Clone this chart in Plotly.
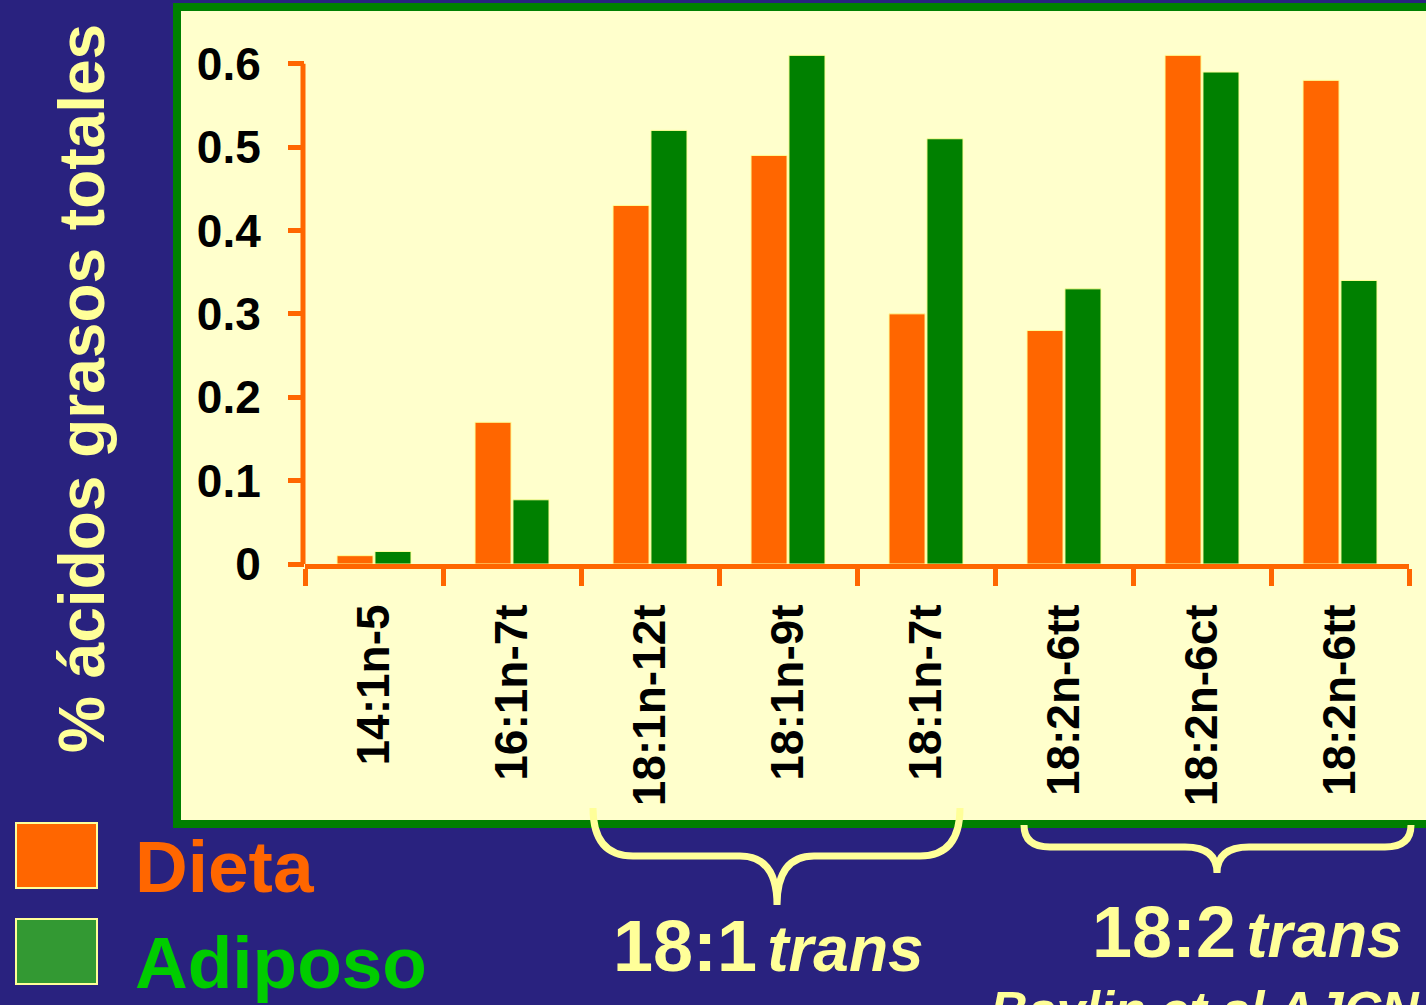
import plotly.graph_objects as go

# Ácidos grasos trans: dieta vs tejido adiposo (% de ácidos grasos totales)
categorias = ["14:1n-5", "16:1n-7t", "18:1n-12t", "18:1n-9t", "18:1n-7t",
              "18:2n-6tt", "18:2n-6ct", "18:2n-6tt"]
dieta = [0.01, 0.17, 0.43, 0.49, 0.30, 0.28, 0.61, 0.58]
adiposo = [0.015, 0.077, 0.52, 0.61, 0.51, 0.33, 0.59, 0.34]
y_ticks = [0, 0.1, 0.2, 0.3, 0.4, 0.5, 0.6]

W, H = 1426, 1005
L, R, T, B = 305, 1409, 22, 564          # plot area in pixels
YMAX = 0.65

FONT = "Liberation Sans, Arial, Helvetica, sans-serif"
NAVY = "#29227f"
CREAM = "#ffffcc"
PALE = "#ffff99"
ORANGE = "#ff6600"
GREEN = "#008000"


def px(x):
    return (x - L) / (R - L)


def py(y):
    return (B - y) / (B - T)


xpos = list(range(len(categorias)))

fig = go.Figure()
fig.add_trace(go.Bar(x=xpos, y=dieta, name="Dieta",
                     marker=dict(color=ORANGE, line=dict(color=PALE, width=1))))
fig.add_trace(go.Bar(x=xpos, y=adiposo, name="Adiposo",
                     marker=dict(color=GREEN, line=dict(color=PALE, width=1))))

shapes = []
# cream panel with green frame
shapes.append(dict(type="rect", xref="paper", yref="paper", layer="below",
                   x0=px(177), x1=px(1445), y0=py(7), y1=py(824),
                   fillcolor=CREAM, line=dict(color=GREEN, width=8)))
# vertical axis line, only up to 0.6
shapes.append(dict(type="line", xref="paper", yref="paper", layer="above",
                   x0=px(303), x1=px(303), y0=0, y1=py(B - 0.6 / YMAX * (B - T)),
                   line=dict(color=ORANGE, width=5)))


def brace(pts):
    # pts: list of (cmd, [(x, y), ...]) in pixels
    out = []
    for cmd, coords in pts:
        out.append(cmd + " " + " ".join(f"{px(x):.5f},{py(y):.5f}" for x, y in coords))
    return " ".join(out)


brace_181 = brace([
    ("M", [(593, 808)]),
    ("Q", [(593, 856), (633, 856)]),
    ("L", [(740, 856)]),
    ("Q", [(777, 856), (777, 905)]),
    ("Q", [(777, 856), (814, 856)]),
    ("L", [(920, 856)]),
    ("Q", [(960, 856), (960, 808)]),
])
brace_182 = brace([
    ("M", [(1024, 825)]),
    ("Q", [(1024, 847), (1050, 847)]),
    ("L", [(1185, 847)]),
    ("Q", [(1217, 847), (1217, 873)]),
    ("Q", [(1217, 847), (1249, 847)]),
    ("L", [(1385, 847)]),
    ("Q", [(1411, 847), (1411, 825)]),
])
for p in (brace_181, brace_182):
    shapes.append(dict(type="path", xref="paper", yref="paper", path=p,
                       line=dict(color=PALE, width=7)))

# legend swatches
shapes.append(dict(type="rect", xref="paper", yref="paper",
                   x0=px(16), x1=px(97), y0=py(823), y1=py(888),
                   fillcolor=ORANGE, line=dict(color=PALE, width=2)))
shapes.append(dict(type="rect", xref="paper", yref="paper",
                   x0=px(16), x1=px(97), y0=py(919), y1=py(984),
                   fillcolor="#339933", line=dict(color=PALE, width=2)))

annotations = [
    dict(text="<b>% ácidos grasos totales</b>", textangle=-90,
         x=px(82), y=py(389), xref="paper", yref="paper",
         xanchor="center", yanchor="middle", showarrow=False,
         font=dict(family=FONT, size=64, color=PALE)),
    dict(text="<b>Dieta</b>", x=px(133), y=py(866), xref="paper", yref="paper",
         xanchor="left", yanchor="middle", showarrow=False,
         font=dict(family=FONT, size=73, color=ORANGE)),
    dict(text="<b>Adiposo</b>", x=px(133), y=py(962), xref="paper", yref="paper",
         xanchor="left", yanchor="middle", showarrow=False,
         font=dict(family=FONT, size=73, color="#00cc00")),
    dict(text="<b>18:1</b><span style='font-size:36px'> </span>"
              "<span style='font-size:64px'><b><i>trans</i></b></span>",
         x=px(768), y=py(946), xref="paper", yref="paper",
         xanchor="center", yanchor="middle", showarrow=False,
         font=dict(family=FONT, size=72, color=PALE)),
    dict(text="<b>18:2</b><span style='font-size:36px'> </span>"
              "<span style='font-size:64px'><b><i>trans</i></b></span>",
         x=px(1247), y=py(932), xref="paper", yref="paper",
         xanchor="center", yanchor="middle", showarrow=False,
         font=dict(family=FONT, size=72, color=PALE)),
    dict(text="<b><i>Baylin et al AJCN</i></b>", x=px(988), y=py(1010),
         xref="paper", yref="paper", xanchor="left", yanchor="middle",
         showarrow=False, font=dict(family=FONT, size=52, color=PALE)),
]

fig.update_layout(
    width=W, height=H,
    margin=dict(l=L, r=W - R, t=T, b=H - B, pad=0),
    paper_bgcolor=NAVY,
    plot_bgcolor=CREAM,
    barmode="group",
    bargap=0.45,
    bargroupgap=0.05,
    showlegend=False,
    shapes=shapes,
    annotations=annotations,
    font=dict(family=FONT),
)

fig.update_xaxes(
    range=[-0.5, len(categorias) - 0.5],
    tickmode="array", tickvals=xpos, ticktext=categorias,
    tickangle=-90, ticks="", ticklabelstandoff=17,
    tickfont=dict(family=FONT, size=46, color="black", weight="bold"),
    showline=True, linecolor=ORANGE, linewidth=5,
    showgrid=False, zeroline=False,
    minor=dict(tickmode="array",
               tickvals=[i - 0.5 for i in range(len(categorias) + 1)],
               ticks="outside", ticklen=17, tickwidth=5, tickcolor=ORANGE,
               showgrid=False),
)
fig.update_yaxes(
    range=[0, YMAX],
    tickmode="array", tickvals=y_ticks,
    ticktext=[f"{v:g}" for v in y_ticks],
    ticks="outside", ticklen=16, tickwidth=5, tickcolor=ORANGE,
    ticklabelstandoff=18,
    tickfont=dict(family=FONT, size=46, color="black", weight="bold"),
    showline=False, showgrid=False, zeroline=False,
)

fig.write_html("out.html")
